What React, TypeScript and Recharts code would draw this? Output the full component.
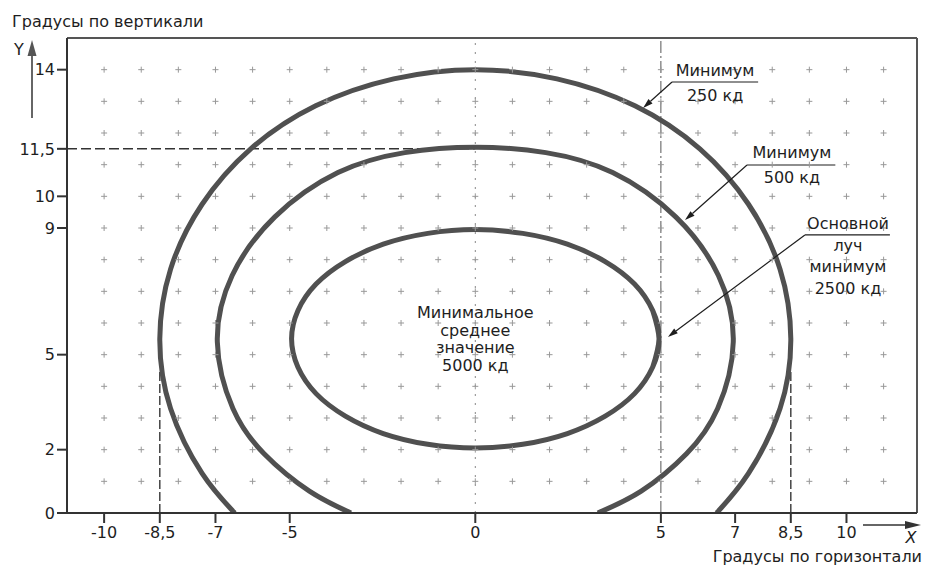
import React from 'react'
import {
  ComposedChart,
  Line,
  Scatter,
  XAxis,
  YAxis,
  ReferenceLine,
  ReferenceDot,
  Customized,
} from 'recharts'

const FONT = '"DejaVu Sans", "Liberation Sans", Arial, sans-serif'

// axis ticks
const xTicks = [-10, -8.5, -7, -5, 0, 5, 7, 8.5, 10]
const yTicks = [0, 2, 5, 9, 10, 11.5, 14]

// small "+" marks of the background grid
const gridCols = [-10, -9, -8, -7, -6, -5, -4, -3, -2, -1, 0, 1, 2, 3, 4, 5, 6, 7, 8, 9, 10, 11]
const gridRows = [1, 2, 3, 4, 5, 6, 7, 8, 9, 10, 11, 12, 13, 14]

// 250 cd contour
const outerX = [6.5, 7.36, 8.21, 8.5, 8.21, 7.36, 6.05, 4.3, 2.2, 0, -2.2, -4.3, -6.05, -7.36, -8.21, -8.5, -8.21, -7.36, -6.48]
const outerY = [0, 1.25, 3.3, 5.5, 7.7, 9.75, 11.5, 12.86, 13.71, 14, 13.71, 12.86, 11.5, 9.75, 7.7, 5.5, 3.3, 1.25, 0]

// 500 cd contour
const middleX = [3.3, 4.47, 5.69, 6.53, 6.95, 6.55, 5.4, 3.7, 1.9, 0, -1.9, -3.7, -5.4, -6.55, -6.95, -6.53, -5.69, -4.47, -3.35]
const middleY = [0, 0.69, 1.87, 3.3, 5.4, 7.5, 9.35, 10.75, 11.38, 11.55, 11.38, 10.75, 9.35, 7.5, 5.4, 3.3, 1.87, 0.69, 0]

// 2500 cd contour (closed, first/last points overlap)
const innerX = [4.78, 4.95, 4.78, 4.29, 3.5, 2.48, 1.28, 0, -1.28, -2.48, -3.5, -4.29, -4.78, -4.95, -4.78, -4.29, -3.5, -2.48, -1.28, 0, 1.28, 2.48, 3.5, 4.29, 4.78, 4.95, 4.78]
const innerY = [4.61, 5.5, 6.39, 7.23, 7.94, 8.49, 8.83, 8.95, 8.83, 8.49, 7.94, 7.23, 6.39, 5.5, 4.61, 3.77, 3.06, 2.51, 2.17, 2.05, 2.17, 2.51, 3.06, 3.77, 4.61, 5.5, 6.39]

const zip = (xs: number[], ys: number[]) => xs.map((x, i) => ({ x, y: ys[i] }))
const outer = zip(outerX, outerY)
const middle = zip(middleX, middleY)
const inner = zip(innerX, innerY)
const gridPoints = gridRows.flatMap((y) => gridCols.map((x) => ({ x, y })))

const fmt = (v: number) => String(v).replace('.', ',')

const Cross = (props: any) => {
  const { cx, cy } = props
  return (
    <path
      d={`M${cx - 3},${cy}H${cx + 3}M${cx},${cy - 3}V${cy + 3}`}
      stroke="#999"
      strokeWidth={1}
    />
  )
}

const noteText = (lines: string[], lh: number) => (props: any) => {
  const { cx, cy } = props
  return (
    <text x={cx} y={cy + 6} textAnchor="middle" fontSize={16} fill="#1e1e1e" fontFamily={FONT}>
      {lines.map((l, i) => (
        <tspan key={i} x={cx} dy={i === 0 ? 0 : lh}>
          {l}
        </tspan>
      ))}
    </text>
  )
}

const ArrowLine = (props: any) => {
  const { x1, y1, x2, y2 } = props
  const a = Math.atan2(y2 - y1, x2 - x1)
  const len = 10
  const w = 3
  const bx = x2 - len * Math.cos(a)
  const by = y2 - len * Math.sin(a)
  const p1 = `${bx + w * Math.sin(a)},${by - w * Math.cos(a)}`
  const p2 = `${bx - w * Math.sin(a)},${by + w * Math.cos(a)}`
  return (
    <g>
      <line x1={x1} y1={y1} x2={bx} y2={by} stroke="#1e1e1e" strokeWidth={1.2} />
      <polygon points={`${x2},${y2} ${p1} ${p2}`} fill="#1e1e1e" />
    </g>
  )
}

const Decor = () => (
  <g fontFamily={FONT} fill="#1e1e1e">
    <text x={12} y={27} fontSize={16}>
      Градусы по вертикали
    </text>
    <text x={922} y={562} fontSize={16} textAnchor="end">
      Градусы по горизонтали
    </text>
    <text x={19} y={55} fontSize={16} textAnchor="middle">
      Y
    </text>
    <text x={911} y={543} fontSize={16} textAnchor="middle" fontStyle="italic">
      X
    </text>
    <line x1={32} y1={118} x2={32} y2={54} stroke="#666" strokeWidth={2} />
    <polygon points="32,40 27.5,56 36.5,56" fill="#555" />
    <line x1={863} y1={525} x2={906} y2={525} stroke="#333" strokeWidth={1.5} />
    <polygon points="921,525 905,521 905,529" fill="#333" />
  </g>
)

const tickStyle = { fill: '#1e1e1e', fontSize: 16, fontFamily: FONT }
const curveColor = '#505050'

export default function App() {
  return (
    <div style={{ position: 'absolute', left: 0, top: 0, width: 925, height: 567, background: '#fff' }}>
      <ComposedChart width={925} height={567} margin={{ top: 38, right: 8, bottom: 0, left: 0 }}>
        <XAxis
          type="number"
          dataKey="x"
          domain={[-11, 11.9]}
          ticks={xTicks}
          tickFormatter={fmt}
          tick={tickStyle}
          tickSize={10}
          tickMargin={4}
          height={54}
          allowDataOverflow
          axisLine={{ stroke: '#333', strokeWidth: 2 }}
          tickLine={{ stroke: '#333', strokeWidth: 2 }}
        />
        <YAxis
          type="number"
          dataKey="y"
          domain={[0, 15]}
          ticks={yTicks}
          tickFormatter={fmt}
          tick={tickStyle}
          tickSize={10}
          tickMargin={2}
          width={67}
          allowDataOverflow
          axisLine={{ stroke: '#333', strokeWidth: 2 }}
          tickLine={{ stroke: '#333', strokeWidth: 2 }}
        />

        <Scatter data={gridPoints} shape={Cross} isAnimationActive={false} />

        {/* plot frame */}
        <ReferenceLine y={15} stroke="#555" strokeWidth={2} />
        <ReferenceLine x={11.9} stroke="#555" strokeWidth={2} />

        {/* guide lines */}
        <ReferenceLine x={0} stroke="#888" strokeWidth={1} strokeDasharray="2 7" />
        <ReferenceLine x={5} stroke="#555" strokeWidth={1} strokeDasharray="12 3 2 3" />
        <ReferenceLine
          segment={[{ x: -11, y: 11.5 }, { x: 0, y: 11.5 }]}
          stroke="#333"
          strokeWidth={1.5}
          strokeDasharray="10 4"
        />
        <ReferenceLine
          segment={[{ x: -8.5, y: 0 }, { x: -8.5, y: 4.5 }]}
          stroke="#444"
          strokeWidth={1.5}
          strokeDasharray="9 3"
        />
        <ReferenceLine
          segment={[{ x: 8.5, y: 0 }, { x: 8.5, y: 4.5 }]}
          stroke="#444"
          strokeWidth={1.5}
          strokeDasharray="9 3"
        />

        <Line data={outer} dataKey="y" type="natural" stroke={curveColor} strokeWidth={5} dot={false} activeDot={false} isAnimationActive={false} />
        <Line data={middle} dataKey="y" type="natural" stroke={curveColor} strokeWidth={5} dot={false} activeDot={false} isAnimationActive={false} />
        <Line data={inner} dataKey="y" type="natural" stroke={curveColor} strokeWidth={5} dot={false} activeDot={false} isAnimationActive={false} />

        {/* annotations */}
        <ReferenceLine segment={[{ x: 5.3, y: 13.61 }, { x: 7.62, y: 13.61 }]} stroke="#1e1e1e" strokeWidth={1.2} />
        <ReferenceLine segment={[{ x: 5.3, y: 13.61 }, { x: 4.52, y: 12.79 }]} shape={ArrowLine} />
        <ReferenceDot x={6.46} y={13.99} r={0} shape={noteText(['Минимум', '250 кд'], 25)} />

        <ReferenceLine segment={[{ x: 7.32, y: 10.99 }, { x: 9.7, y: 10.99 }]} stroke="#1e1e1e" strokeWidth={1.2} />
        <ReferenceLine segment={[{ x: 7.32, y: 10.99 }, { x: 5.65, y: 9.25 }]} shape={ArrowLine} />
        <ReferenceDot x={8.53} y={11.4} r={0} shape={noteText(['Минимум', '500 кд'], 25)} />

        <ReferenceLine segment={[{ x: 8.88, y: 8.78 }, { x: 11.17, y: 8.78 }]} stroke="#1e1e1e" strokeWidth={1.2} />
        <ReferenceLine segment={[{ x: 8.88, y: 8.78 }, { x: 5.19, y: 5.56 }]} shape={ArrowLine} />
        <ReferenceDot x={10.04} y={9.16} r={0} shape={noteText(['Основной', 'луч', 'минимум', '2500 кд'], 21.7)} />

        <ReferenceDot x={0} y={6.35} r={0} shape={noteText(['Минимальное', 'среднее', 'значение', '5000 кд'], 17.7)} />

        <Customized component={Decor} />
      </ComposedChart>
    </div>
  )
}
